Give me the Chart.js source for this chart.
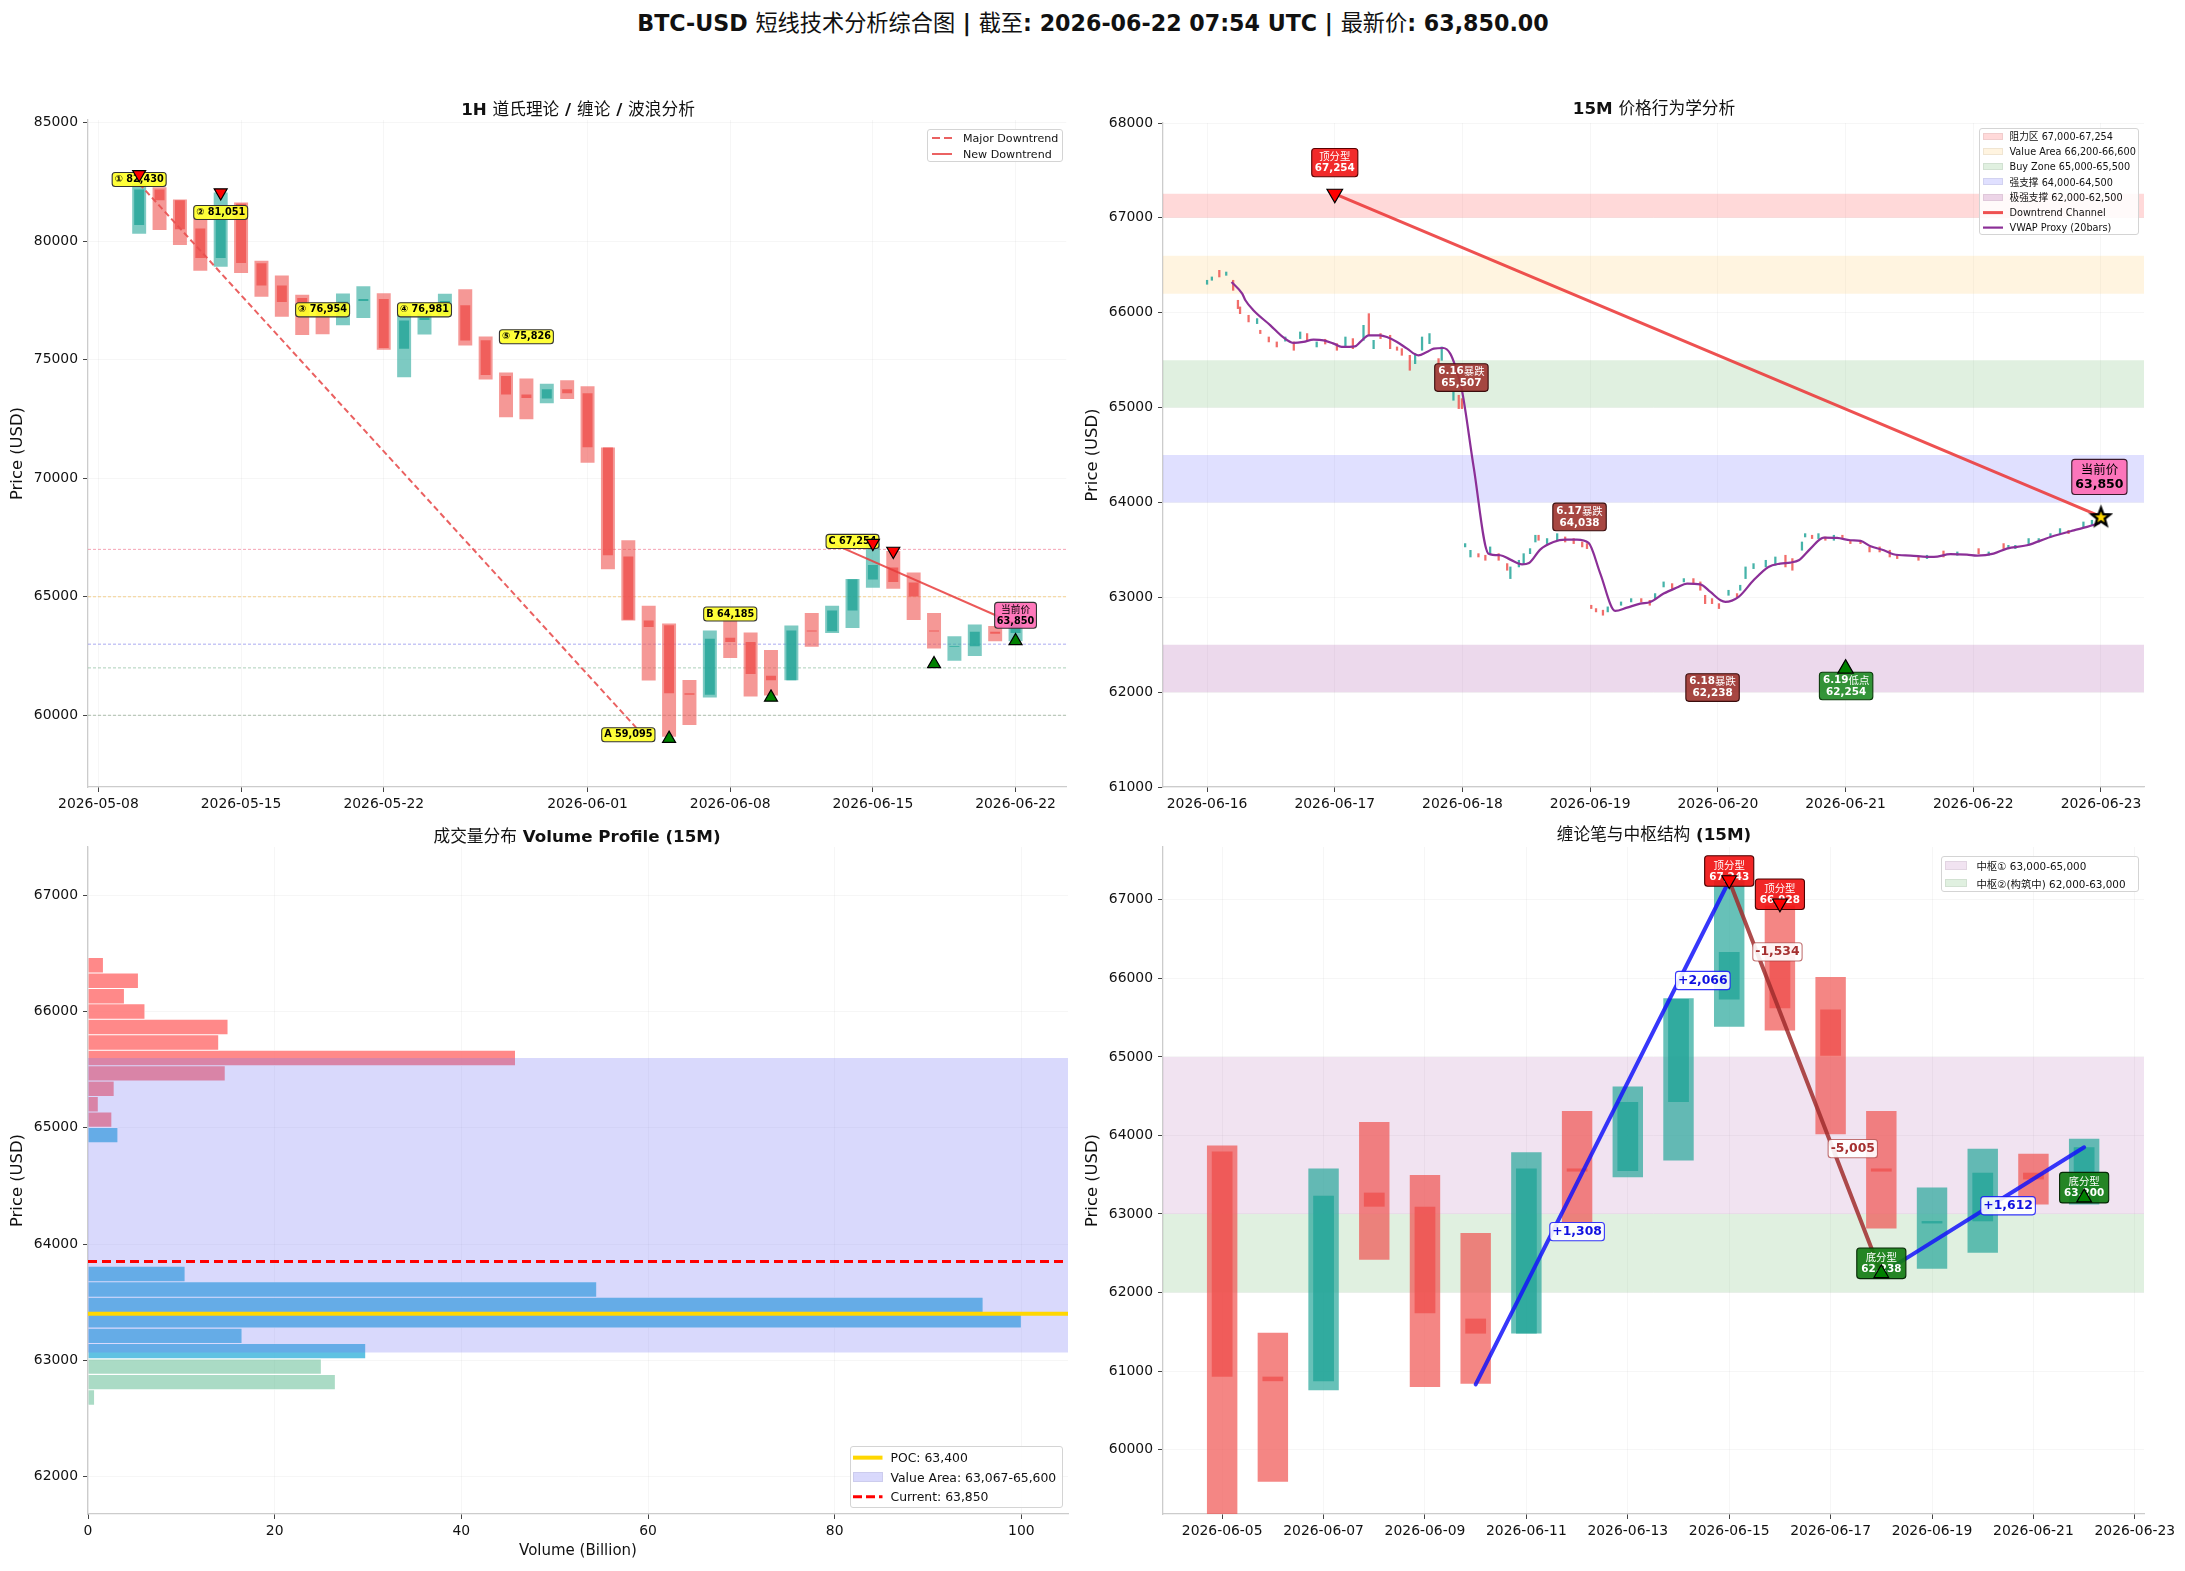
<!DOCTYPE html>
<html>
<head>
<meta charset="utf-8">
<title>BTC-USD 短线技术分析综合图</title>
<script src="https://cdn.jsdelivr.net/npm/chart.js@4.4.1/dist/chart.umd.min.js"></script>
<style>
html, body { margin: 0; padding: 0; background: #fff; }
#page { position: relative; width: 2185px; height: 1571px; overflow: hidden; background: #fff;
  font-family: 'DejaVu Sans', 'Noto Sans CJK SC', sans-serif; color: #111; }
#page canvas { position: absolute; }
.title { position: absolute; text-align: center; white-space: nowrap; font-weight: bold; z-index: 5; }
.cjk { font-weight: normal; font-family: 'Noto Sans CJK SC', sans-serif; }
.legend { position: absolute; box-sizing: border-box; border: 1px solid #d4d4d4; border-radius: 3px;
  background: rgba(255,255,255,0.85); z-index: 5; }
.legend .row { display: flex; align-items: center; white-space: nowrap; }
.legend .sw { flex: none; display: flex; align-items: center; justify-content: center; }
</style>
</head>
<body>
<div id="page"></div>
<script>
'use strict';

const MAIN_TITLE = 'BTC-USD 短线技术分析综合图 | 截至: 2026-06-22 07:54 UTC | 最新价: 63,850.00';
const PANEL_TITLES = ['1H 道氏理论 / 缠论 / 波浪分析', '15M 价格行为学分析', '成交量分布 Volume Profile (15M)', '缠论笔与中枢结构 (15M)'];

// daily candles (panel 1 shows all, panel 4 from 06-05)
const DAILY_DATES = ['2026-05-10', '2026-05-11', '2026-05-12', '2026-05-13', '2026-05-14', '2026-05-15', '2026-05-16', '2026-05-17',
  '2026-05-18', '2026-05-19', '2026-05-20', '2026-05-21', '2026-05-22', '2026-05-23', '2026-05-24', '2026-05-25', '2026-05-26',
  '2026-05-27', '2026-05-28', '2026-05-29', '2026-05-30', '2026-05-31', '2026-06-01', '2026-06-02', '2026-06-03', '2026-06-04',
  '2026-06-05', '2026-06-06', '2026-06-07', '2026-06-08', '2026-06-09', '2026-06-10', '2026-06-11', '2026-06-12', '2026-06-13',
  '2026-06-14', '2026-06-15', '2026-06-16', '2026-06-17', '2026-06-18', '2026-06-19', '2026-06-20', '2026-06-21', '2026-06-22'];
const DAILY_OPEN = [80680, 82183, 81724, 80533, 79290, 81578, 79067, 78132, 77600, 77100, 76950, 77480, 77563, 75464, 76680,
  76950, 77295, 75822, 74319, 73531, 73366, 73751, 73586, 71295, 66700, 64000, 63797, 60929, 60871, 63272, 63093, 61668,
  61477, 63580, 63549, 64426, 65731, 66235, 65603, 63580, 62880, 62908, 63526, 63468];
const DAILY_HIGH = [82430, 82280, 81761, 80955, 82054, 81633, 79177, 78553, 77747, 77336, 77790, 78097, 77802, 76943, 76950,
  77780, 77970, 75984, 74466, 74209, 73989, 74136, 73879, 71295, 67380, 64623, 63872, 61489, 63578, 64172, 63497, 62758,
  63786, 64311, 64623, 65748, 67243, 66928, 66019, 64311, 63336, 63832, 63768, 63959];
const DAILY_LOW = [80313, 80478, 79837, 78755, 78920, 78663, 77655, 76812, 76042, 76080, 76450, 76758, 75419, 74263, 76070,
  76900, 75603, 74166, 72578, 72486, 73164, 73348, 70653, 66162, 64000, 61470, 59095, 59590, 60756, 62418, 60796, 60837,
  61477, 62891, 63468, 63682, 65384, 65338, 64016, 62816, 62303, 62505, 63122, 63122];
const DAILY_CLOSE = [82183, 81724, 80500, 79287, 80950, 79085, 78132, 77435, 76990, 76900, 77450, 77560, 75492, 76660, 76780,
  77480, 75815, 74356, 73531, 73384, 73751, 73586, 71313, 66749, 64030, 63725, 60929, 60871, 63232, 63093, 61737, 61477,
  63578, 63540, 64426, 65736, 66336, 65621, 65015, 63540, 62910, 63526, 63440, 63850];

// panel 1: 1H dow / chan / wave
const X1_RANGE = ['2026-05-07 11:45', '2026-06-24 11:45'];
const X1_TICKS = ['2026-05-08', '2026-05-15', '2026-05-22', '2026-06-01', '2026-06-08', '2026-06-15', '2026-06-22'];
const Y1_RANGE = [56975, 85114];
const Y1_TICKS = [60000, 65000, 70000, 75000, 80000, 85000];
const REF_LEVELS = [67000, 65000, 63000, 62000, 60000];
const REF_COLORS = ['rgba(235,90,120,0.55)', 'rgba(240,170,40,0.5)', 'rgba(90,90,230,0.5)', 'rgba(70,150,100,0.45)', 'rgba(80,120,80,0.45)'];
const MAJOR_TREND = [['2026-05-10', 82430], ['2026-06-03 19:00', 59095]];
const NEW_TREND = [['2026-06-13', 67254], ['2026-06-22', 63850]];
const SWING_TOPS = [['2026-05-10', 82824], ['2026-05-14', 82054], ['2026-06-15', 67262], ['2026-06-16', 66932]];
const SWING_BOTTOMS = [['2026-06-05', 59014], ['2026-06-10', 60755], ['2026-06-18', 62166], ['2026-06-22', 63137]];
const WAVE_LABELS = [
  ['2026-05-10', 82604, '① 82,430'], ['2026-05-14', 81211, '② 81,051'], ['2026-05-19', 77105, '③ 76,954'],
  ['2026-05-24', 77105, '④ 76,981'], ['2026-05-29', 75969, '⑤ 75,826'], ['2026-06-03', 59178, 'A 59,095'],
  ['2026-06-08', 64274, 'B 64,185'], ['2026-06-14', 67336, 'C 67,254']];
const PRICE_TAG_1H = ['2026-06-22', 64219, ['当前价', '63,850']];

// panel 2: 15M price action (hours counted from BAR_BASE)
const BAR_BASE = '2026-06-16';
const X2_RANGE = ['2026-06-15 15:43', '2026-06-23 08:05'];
const X2_TICKS = ['2026-06-16', '2026-06-17', '2026-06-18', '2026-06-19', '2026-06-20', '2026-06-21', '2026-06-22', '2026-06-23'];
const Y2_RANGE = [61000, 68000];
const Y2_TICKS = [61000, 62000, 63000, 64000, 65000, 66000, 67000, 68000];
const C15_HOURS = [0.0, 0.9, 2.3, 3.6, 4.9, 5.8, 6.2, 7.8, 9.4, 10.0,
  11.6, 13.1, 14.7, 16.3, 17.5, 18.8, 20.6, 22.2, 24.4, 26.0,
  27.4, 29.4, 30.4, 31.3, 32.6, 34.4, 35.7, 36.6, 38.1, 39.1,
  40.4, 41.8, 43.5, 44.1, 46.3, 47.3, 47.9, 48.5, 49.5, 51.0,
  52.3, 53.2, 54.8, 56.4, 57.0, 58.6, 59.5, 60.7, 61.7, 62.3,
  63.9, 65.8, 67.3, 68.9, 70.5, 71.4, 72.2, 73.1, 74.4, 75.3,
  77.8, 79.7, 81.6, 83.2, 84.2, 85.8, 87.4, 89.6, 91.4, 92.7,
  93.6, 94.9, 96.2, 98.0, 99.6, 100.2, 101.2, 102.7, 105.0, 106.8,
  108.7, 110.0, 111.8, 112.4, 113.7, 114.9, 116.2, 117.8, 119.4, 120.9,
  122.8, 124.5, 126.4, 128.3, 129.7, 133.7, 135.3, 138.4, 141.0, 145.0,
  146.9, 149.7, 150.6, 151.9, 154.4, 156.3, 158.5, 160.3, 161.9, 164.7, 166.3];
const C15_LOW = [66300, 66342, 66377, 66394, 66236, 66043, 65990, 65903, 65885, 65780,
  65692, 65639, 65700, 65604, 65727, 65710, 65639, 65670, 65604, 65639,
  65621, 65709, 65762, 65621, 65727, 65621, 65604, 65551, 65393, 65463,
  65604, 65674, 65463, 65498, 65077, 64989, 64989, 63531, 63425, 63425,
  63390, 63460, 63390, 63285, 63197, 63320, 63355, 63460, 63583, 63601,
  63566, 63601, 63583, 63566, 63531, 63513, 62881, 62846, 62811, 62846,
  62916, 62951, 62951, 62916, 62986, 63109, 63092, 63162, 63144, 63074,
  62933, 62933, 62881, 63021, 63004, 63074, 63197, 63302, 63320, 63338,
  63320, 63285, 63496, 63636, 63619, 63619, 63601, 63601, 63619, 63566,
  63566, 63478, 63478, 63425, 63408, 63390, 63408, 63425, 63443, 63460,
  63443, 63513, 63513, 63513, 63566, 63583, 63636, 63671, 63671, 63742, 63759];
const C15_HIGH = [66342, 66377, 66447, 66429, 66342, 66131, 66061, 65973, 65938, 65815,
  65744, 65692, 65744, 65692, 65797, 65780, 65692, 65720, 65674, 65744,
  65727, 65867, 65990, 65709, 65780, 65762, 65639, 65621, 65551, 65569,
  65744, 65780, 65516, 65639, 65165, 65130, 65094, 63566, 63495, 63460,
  63443, 63531, 63460, 63355, 63320, 63390, 63460, 63513, 63654, 63654,
  63619, 63671, 63636, 63619, 63583, 63566, 62916, 62881, 62864, 62899,
  62951, 62986, 62986, 62968, 63039, 63162, 63144, 63197, 63197, 63162,
  63021, 62986, 62933, 63074, 63039, 63127, 63320, 63355, 63390, 63425,
  63443, 63408, 63583, 63671, 63654, 63671, 63636, 63654, 63654, 63601,
  63601, 63531, 63531, 63496, 63443, 63425, 63443, 63488, 63478, 63513,
  63478, 63566, 63548, 63548, 63619, 63619, 63671, 63724, 63706, 63794, 63812];
const C15_UP = [1, 1, 0, 1, 0, 0, 0, 0, 1, 0,
  0, 0, 1, 0, 1, 0, 1, 0, 0, 1,
  0, 1, 0, 1, 0, 0, 0, 0, 0, 1,
  1, 1, 0, 1, 1, 0, 0, 1, 1, 0,
  0, 1, 0, 0, 1, 1, 1, 1, 1, 0,
  1, 1, 0, 0, 0, 0, 0, 0, 0, 1,
  1, 1, 0, 0, 1, 1, 0, 1, 0, 0,
  0, 0, 0, 1, 0, 1, 1, 1, 1, 1,
  0, 0, 1, 1, 0, 1, 0, 1, 0, 0,
  0, 0, 0, 0, 0, 0, 1, 0, 1, 0,
  1, 0, 1, 1, 1, 1, 1, 1, 0, 1, 1];
const VWAP_HOURS = [4.6, 6.6, 7.2, 8.7, 11.9, 14.4, 16.3, 18.1, 20.0, 21.9, 23.8, 25.3, 27.8, 28.8, 30.4,
  32.5, 33.8, 35.7, 37.6, 39.7, 41.3, 42.6, 44.4, 45.7, 46.7, 47.9, 50.1, 52.9, 55.1, 57.0,
  59.2, 60.5, 62.6, 65.1, 67.3, 69.5, 71.7, 73.9, 76.7, 78.9, 81.4, 83.3, 85.8, 88.3, 90.2,
  92.7, 94.6, 96.5, 97.4, 99.9, 102.7, 105.5, 107.7, 109.6, 111.2, 113.4, 115.9, 118.4, 120.9, 122.8,
  124.7, 127.2, 129.0, 132.2, 136.6, 139.7, 142.8, 144.7, 147.8, 150.3, 154.1, 158.5, 162.9, 165.4, 167.8];
const VWAP_PRICE = [66324, 66201, 66131, 66026, 65867, 65737, 65681, 65692, 65716, 65709, 65674, 65639, 65646, 65692, 65762,
  65762, 65744, 65692, 65621, 65551, 65586, 65621, 65628, 65569, 65428, 65182, 64374, 63460, 63443, 63397,
  63348, 63362, 63503, 63583, 63608, 63608, 63573, 63250, 62856, 62891, 62933, 62951, 63039, 63102, 63144,
  63137, 63056, 62968, 62951, 63004, 63179, 63320, 63355, 63366, 63390, 63513, 63629, 63626, 63601, 63594,
  63538, 63496, 63454, 63440, 63425, 63454, 63450, 63440, 63460, 63513, 63548, 63636, 63706, 63742, 63784];
const ZONE_LABELS_15M = ['阻力区 67,000-67,254', 'Value Area 66,200-66,600', 'Buy Zone 65,000-65,500', '强支撑 64,000-64,500', '极强支撑 62,000-62,500'];
const ZONE_LOW_15M = [67000, 66200, 65000, 64000, 62000];
const ZONE_HIGH_15M = [67254, 66600, 65500, 64500, 62500];
const ZONE_COLORS_15M = ['rgba(255,0,0,0.15)', 'rgba(255,165,0,0.12)', 'rgba(0,128,0,0.12)', 'rgba(0,0,255,0.12)', 'rgba(128,0,128,0.15)'];
const CHANNEL_15M = [['2026-06-17 00:00', 67254], ['2026-06-23 00:00', 63850]];
const TOP_MARK_15M = [['2026-06-17 00:00', 67254]];
const LOW_MARK_15M = [['2026-06-21 00:00', 62248]];
const NOW_MARK_15M = [['2026-06-23 00:00', 63850]];
const TOP_TAG_15M = [['2026-06-17 00:00', 67582, ['顶分型', '67,254']]];
const DROP_TAGS_15M = [['2026-06-17 23:48', 65316, ['6.16暴跌', '65,507']], ['2026-06-18 22:00', 63847, ['6.17暴跌', '64,038']],
  ['2026-06-19 23:00', 62048, ['6.18暴跌', '62,238']]];
const LOW_TAG_15M = [['2026-06-21 00:06', 62065, ['6.19低点', '62,254']]];
const PRICE_TAG_15M = [['2026-06-22 23:42', 64269, ['当前价', '63,850']]];

// panel 3: volume profile
const VP_PRICE = [62679, 62812, 62945, 63078, 63210, 63343, 63476, 63609, 63742, 64937, 65070, 65203, 65336, 65468,
  65601, 65734, 65867, 66000, 66132, 66265, 66398];
const VP_VOLUME = [0.7, 26.5, 25.0, 29.75, 16.5, 100.0, 95.9, 54.5, 10.4, 3.2, 2.55, 1.1, 2.8, 14.7, 45.8, 14.0, 15.0, 6.1, 3.9, 5.4, 1.65];
const VP_SIDE = ['g', 'g', 'g', 'b', 'b', 'b', 'b', 'b', 'b', 'b', 'r', 'r', 'r', 'r', 'r', 'r', 'r', 'r', 'r', 'r', 'r'];
const VP_COLORS = { g: 'rgba(100,190,150,0.55)', b: 'rgba(60,180,220,0.82)', r: 'rgba(255,107,107,0.8)' };
const POC = 63400;
const VALUE_AREA = [63067, 65600];
const CURRENT_PRICE = 63850;
const X3_RANGE = [0, 105];
const X3_TICKS = [0, 20, 40, 60, 80, 100];
const Y3_RANGE = [61677, 67416];
const Y3_TICKS = [62000, 63000, 64000, 65000, 66000, 67000];

// panel 4: chan bi / pivot
const X4_START = '2026-06-05';
const X4_RANGE = ['2026-06-03 20:00', '2026-06-23 04:20'];
const X4_TICKS = ['2026-06-05', '2026-06-07', '2026-06-09', '2026-06-11', '2026-06-13', '2026-06-15', '2026-06-17', '2026-06-19', '2026-06-21', '2026-06-23'];
const Y4_RANGE = [59180, 67673];
const Y4_TICKS = [60000, 61000, 62000, 63000, 64000, 65000, 66000, 67000];
const PIVOT_LABELS = ['中枢① 63,000-65,000', '中枢②(构筑中) 62,000-63,000'];
const PIVOT_LOW = [63000, 62000];
const PIVOT_HIGH = [65000, 63000];
const PIVOT_COLORS = ['rgba(128,0,128,0.11)', 'rgba(0,128,0,0.12)'];
const BI_POINTS = [['2026-06-10', 60830], ['2026-06-15', 67243], ['2026-06-18', 62238], ['2026-06-22', 63850]];
const FRACTAL_TOPS = [['2026-06-15', 67253], ['2026-06-16', 66957]];
const FRACTAL_BOTTOMS = [['2026-06-18', 62245], ['2026-06-22', 63209]];
const FRACTAL_TOP_TAGS = [['2026-06-15', 67368, ['顶分型', '67,243']], ['2026-06-16', 67071, ['顶分型', '66,928']]];
const FRACTAL_BOTTOM_TAGS = [['2026-06-18', 62372, ['底分型', '62,238']], ['2026-06-22', 63336, ['底分型', '63,200']]];
const BI_TAGS_UP = [['2026-06-12', 62776, '+1,308'], ['2026-06-14 11:30', 65973, '+2,066'], ['2026-06-20 12:00', 63105, '+1,612']];
const BI_TAGS_DOWN = [['2026-06-15 22:50', 66337, '-1,534'], ['2026-06-17 10:30', 63832, '-5,005']];

const TEAL = a => `rgba(38,166,154,${a})`;
const RED = a => `rgba(239,83,80,${a})`;

Chart.defaults.font.family = "'DejaVu Sans', 'Noto Sans CJK SC', sans-serif";
Chart.defaults.color = '#111';
Chart.defaults.animation = false;

const page = document.getElementById('page');
const LABEL_SETS = {};

function toDay(s) {
  const [d, t] = s.split(' ');
  const [y, m, dd] = d.split('-').map(Number);
  let v = Date.UTC(y, m - 1, dd) / 864e5;
  if (t) { const [hh, mm] = t.split(':').map(Number); v += (hh + mm / 60) / 24; }
  return v;
}
function fmtDay(v) { return new Date(Math.round(v) * 864e5).toISOString().slice(0, 10); }

const CJK_RE = /([\u2E80-\u9FFF\uFF00-\uFFEF\u3000-\u303F]+)/;
function runsOf(text) { return text.split(CJK_RE).filter(Boolean).map(t => ({ t, cjk: CJK_RE.test(t) })); }
function mixedHTML(text) { return runsOf(text).map(r => r.cjk ? `<span class="cjk">${r.t}</span>` : r.t).join(''); }
function runFont(r, size) { return r.cjk ? `${size}px 'Noto Sans CJK SC'` : `bold ${size}px 'DejaVu Sans'`; }
function lineWidthOf(ctx, line, size) {
  return runsOf(line).reduce((w, r) => { ctx.font = runFont(r, size); return w + ctx.measureText(r.t).width; }, 0);
}
function drawMixed(ctx, line, cx, cy, size) {
  let x = cx - lineWidthOf(ctx, line, size) / 2;
  ctx.textAlign = 'left';
  ctx.textBaseline = 'middle';
  runsOf(line).forEach(r => { ctx.font = runFont(r, size); ctx.fillText(r.t, x, cy); x += ctx.measureText(r.t).width; });
}

function drawBoxes(chart) {
  const items = LABEL_SETS[chart.canvas.id] || [];
  const { ctx, scales: { x, y } } = chart;
  items.forEach(it => {
    const px = x.getPixelForValue(it.x), py = y.getPixelForValue(it.y);
    const lines = [].concat(it.text);
    const lh = it.size * 1.18;
    const w = Math.max(...lines.map(l => lineWidthOf(ctx, l, it.size))) + 2 * it.padX;
    const h = lines.length * lh + 2 * it.padY;
    ctx.save();
    ctx.beginPath();
    ctx.roundRect(px - w / 2, py - h / 2, w, h, 3);
    ctx.fillStyle = it.bg;
    ctx.fill();
    ctx.lineWidth = 1.1;
    ctx.strokeStyle = it.border;
    ctx.stroke();
    ctx.fillStyle = it.color;
    lines.forEach((l, i) => drawMixed(ctx, l, px, py - h / 2 + it.padY + lh * (i + 0.5), it.size));
    ctx.restore();
  });
}

// label boxes go above lines/candles but under the marker triangles
const boxLabelPlugin = {
  id: 'boxLabels',
  beforeDatasetsDraw(chart) { chart.$boxesDone = false; },
  beforeDatasetDraw(chart, args) {
    if (!chart.$boxesDone && args.meta.order <= 20) { drawBoxes(chart); chart.$boxesDone = true; }
  },
  afterDatasetsDraw(chart) { if (!chart.$boxesDone) { drawBoxes(chart); chart.$boxesDone = true; } }
};

function boxItems(list, style) {
  return list.map(([x, y, text]) => Object.assign({ x: toDay(x), y, text }, style));
}

function makeCanvas(id, r) {
  const c = document.createElement('canvas');
  c.id = id;
  c.width = r.w;
  c.height = r.h;
  Object.assign(c.style, { left: r.x + 'px', top: r.y + 'px', width: r.w + 'px', height: r.h + 'px' });
  page.appendChild(c);
  return c;
}

function axis(range, ticks, fmt, pad) {
  return {
    type: 'linear', min: range[0], max: range[1], offset: false,
    afterBuildTicks: s => { s.ticks = ticks.map(v => ({ value: v })); },
    ticks: { callback: v => fmt(v), font: { size: 13.9 }, color: '#111', padding: pad, maxRotation: 0, autoSkip: false },
    grid: { offset: false, color: 'rgba(0,0,0,0.035)', tickColor: '#444', tickLength: 5, tickWidth: 1 },
    border: { color: '#cccccc', width: 1.3 }
  };
}
function priceAxis(range, ticks) {
  const a = axis(range, ticks, v => String(v), 5);
  a.title = { display: true, text: 'Price (USD)', font: { size: 16.4 }, color: '#111', padding: { top: 8, bottom: 0 } };
  return a;
}
function dateAxis(range, ticks) {
  return axis(range.map(toDay), ticks.map(toDay), fmtDay, 4);
}

function makeChart(id, rect, area, scales, datasets) {
  const canvas = makeCanvas(id, rect);
  const yW = area.l - rect.x, xH = rect.y + rect.h - area.b;
  scales.x.afterFit = s => { s.height = xH; };
  scales.y.afterFit = s => { s.width = yW; };
  return new Chart(canvas, {
    type: 'bar',
    data: { datasets },
    options: {
      responsive: false, animation: false, devicePixelRatio: 1,
      layout: { padding: { left: 0, bottom: 0, top: area.t - rect.y, right: rect.x + rect.w - area.r } },
      plugins: { legend: { display: false }, tooltip: { enabled: false } },
      scales
    },
    plugins: [boxLabelPlugin]
  });
}

function lineSet(points, color, width, order, extra) {
  return Object.assign({
    type: 'line', order, data: points.map(([d, p]) => ({ x: typeof d === 'string' ? toDay(d) : d, y: p })),
    borderColor: color, borderWidth: width, pointRadius: 0, pointHoverRadius: 0, fill: false
  }, extra || {});
}
function bandSet(xr, lo, hi, color, order) {
  return {
    type: 'line', order, data: [{ x: xr[0], y: hi }, { x: xr[1], y: hi }], fill: { value: lo },
    backgroundColor: color, borderColor: 'rgba(0,0,0,0)', borderWidth: 0, pointRadius: 0, pointHoverRadius: 0
  };
}
function markerSet(points, down, radius) {
  return {
    type: 'line', order: 10, showLine: false, data: points.map(([d, p]) => ({ x: toDay(d), y: p })),
    pointStyle: 'triangle', pointRotation: down ? 180 : 0, pointRadius: radius, pointHoverRadius: radius,
    pointBackgroundColor: down ? '#ff0000' : '#008000', pointBorderColor: '#000', pointBorderWidth: 1.2
  };
}
function candleSets(idx, outerPct, innerPct, outerAlpha) {
  const isUp = i => DAILY_CLOSE[i] >= DAILY_OPEN[i];
  return [
    {
      type: 'bar', order: 90, grouped: false, categoryPercentage: 1, barPercentage: outerPct,
      data: idx.map(i => ({ x: toDay(DAILY_DATES[i]), y: [DAILY_LOW[i], DAILY_HIGH[i]] })),
      backgroundColor: idx.map(i => isUp(i) ? TEAL(outerAlpha) : RED(outerAlpha))
    },
    {
      type: 'bar', order: 85, grouped: false, categoryPercentage: 1, barPercentage: innerPct,
      data: idx.map(i => ({ x: toDay(DAILY_DATES[i]), y: [Math.min(DAILY_OPEN[i], DAILY_CLOSE[i]), Math.max(DAILY_OPEN[i], DAILY_CLOSE[i])] })),
      backgroundColor: idx.map(i => isUp(i) ? TEAL(0.82) : RED(0.82))
    }
  ];
}

function starImage(r) {
  const c = document.createElement('canvas');
  const s = Math.ceil(r * 2 + 6);
  c.width = c.height = s;
  const g = c.getContext('2d');
  g.translate(s / 2, s / 2 + r * 0.08);
  g.beginPath();
  for (let k = 0; k < 10; k++) {
    const rr = k % 2 ? r * 0.42 : r;
    const a = -Math.PI / 2 + k * Math.PI / 5;
    g.lineTo(rr * Math.cos(a), rr * Math.sin(a));
  }
  g.closePath();
  g.fillStyle = '#ffd700';
  g.fill();
  g.lineWidth = 2.4;
  g.strokeStyle = '#000';
  g.stroke();
  return c;
}

function addTitle(text, cx, cy, size) {
  const el = document.createElement('div');
  el.className = 'title';
  Object.assign(el.style, { left: (cx - 600) + 'px', top: (cy - size * 0.62) + 'px', width: '1200px', fontSize: size + 'px', lineHeight: (size * 1.24) + 'px' });
  el.innerHTML = mixedHTML(text);
  page.appendChild(el);
}

function addLegend(items, box, font, rowH, sw) {
  const el = document.createElement('div');
  el.className = 'legend';
  Object.assign(el.style, { left: box.x + 'px', top: box.y + 'px', width: box.w + 'px', height: box.h + 'px', fontSize: font + 'px', paddingTop: box.pt + 'px', paddingLeft: box.pl + 'px' });
  items.forEach(it => {
    const row = document.createElement('div');
    row.className = 'row';
    row.style.height = rowH + 'px';
    const s = document.createElement('span');
    s.className = 'sw';
    s.style.width = sw.w + 'px';
    s.style.height = rowH + 'px';
    s.style.marginRight = sw.gap + 'px';
    if (it.kind === 'patch') {
      s.innerHTML = `<span style="display:block;width:${sw.w}px;height:${sw.h}px;background:${it.color};border:0.8px solid ${it.edge || 'rgba(0,0,0,0.06)'};box-sizing:border-box"></span>`;
    } else {
      s.innerHTML = `<svg width="${sw.w}" height="${rowH}"><line x1="0" y1="${rowH / 2}" x2="${sw.w}" y2="${rowH / 2}" stroke="${it.color}" stroke-width="${it.width}" ${it.dash ? `stroke-dasharray="${it.dash}"` : ''}/></svg>`;
    }
    const t = document.createElement('span');
    t.innerHTML = mixedHTML(it.label).replace(/class="cjk"/g, 'style="font-family:\'Noto Sans CJK SC\'"');
    row.appendChild(s);
    row.appendChild(t);
    el.appendChild(row);
  });
  page.appendChild(el);
}

// ---------- panel 1 ----------
(function panel1() {
  const xr = X1_RANGE.map(toDay);
  const idx = DAILY_DATES.map((d, i) => i);
  const datasets = [
    ...REF_LEVELS.map((lv, i) => lineSet([[xr[0], lv], [xr[1], lv]], REF_COLORS[i], 1, 95, { borderDash: [3, 2] })),
    ...candleSets(idx, 0.685, 0.49, 0.6),
    lineSet(MAJOR_TREND, 'rgba(232,80,80,0.9)', 2, 75, { borderDash: [6, 3.5] }),
    lineSet(NEW_TREND, 'rgba(232,60,60,0.85)', 2, 75),
    markerSet(SWING_TOPS, true, 7.5),
    markerSet(SWING_BOTTOMS, false, 7.5)
  ];
  LABEL_SETS.p1 = [
    ...boxItems(WAVE_LABELS, { bg: 'rgba(255,255,40,0.92)', border: '#333', color: '#000', size: 9.7, padX: 2.5, padY: 1.3 }),
    ...boxItems([PRICE_TAG_1H], { bg: 'rgba(255,105,180,0.9)', border: '#333', color: '#000', size: 9.7, padX: 2.2, padY: 1.5 })
  ];
  makeChart('p1', { x: 0, y: 95, w: 1075, h: 740 }, { l: 88, t: 120, r: 1068, b: 787 },
    { x: dateAxis(X1_RANGE, X1_TICKS), y: priceAxis(Y1_RANGE, Y1_TICKS) }, datasets);
  addLegend([
    { label: 'Major Downtrend', kind: 'line', color: 'rgba(232,80,80,0.9)', width: 2, dash: '8,4' },
    { label: 'New Downtrend', kind: 'line', color: 'rgba(232,70,70,0.85)', width: 2 }
  ], { x: 927, y: 128.6, w: 136, h: 33.4, pt: 0.5, pl: 4 }, 11.1, 16, { w: 20, h: 7, gap: 11 });
})();

// ---------- panel 2 ----------
(function panel2() {
  const xr = X2_RANGE.map(toDay);
  const base = toDay(BAR_BASE);
  const datasets = [
    ...ZONE_LOW_15M.map((lo, i) => bandSet(xr, lo, ZONE_HIGH_15M[i], ZONE_COLORS_15M[i], 100)),
    {
      type: 'bar', order: 90, grouped: false, barThickness: 1.6,
      data: C15_HOURS.map((h, i) => ({ x: base + h / 24, y: [C15_LOW[i], C15_HIGH[i]] })),
      backgroundColor: C15_UP.map(u => u ? TEAL(0.85) : RED(0.85))
    },
    lineSet(VWAP_HOURS.map((h, i) => [base + h / 24, VWAP_PRICE[i]]), '#8b2f97', 2.2, 80, { cubicInterpolationMode: 'monotone' }),
    lineSet(CHANNEL_15M, 'rgba(235,50,50,0.85)', 3, 75),
    markerSet(TOP_MARK_15M, true, 9),
    markerSet(LOW_MARK_15M, false, 9),
    {
      type: 'line', order: 10, showLine: false, data: NOW_MARK_15M.map(([d, p]) => ({ x: toDay(d), y: p })),
      pointStyle: starImage(9.5), pointRadius: 10, pointHoverRadius: 10
    }
  ];
  LABEL_SETS.p2 = [
    ...boxItems(TOP_TAG_15M, { bg: 'rgba(240,24,24,0.92)', border: '#5a0000', color: '#fff', size: 10.4, padX: 3, padY: 1.9 }),
    ...boxItems(DROP_TAGS_15M, { bg: 'rgba(160,55,50,0.92)', border: '#3a0d0d', color: '#fff', size: 10.4, padX: 3.5, padY: 1.5 }),
    ...boxItems(LOW_TAG_15M, { bg: 'rgba(35,140,40,0.92)', border: '#0b3b0b', color: '#fff', size: 10.4, padX: 3.5, padY: 1.5 }),
    ...boxItems(PRICE_TAG_15M, { bg: 'rgba(255,105,180,0.9)', border: '#3a1a2a', color: '#000', size: 12.5, padX: 3.5, padY: 2.8 })
  ];
  makeChart('p2', { x: 1075, y: 95, w: 1110, h: 740 }, { l: 1163, t: 123, r: 2144, b: 787 },
    { x: dateAxis(X2_RANGE, X2_TICKS), y: priceAxis(Y2_RANGE, Y2_TICKS) }, datasets);
  addLegend([
    ...ZONE_LABELS_15M.map((l, i) => ({ label: l, kind: 'patch', color: ZONE_COLORS_15M[i] })),
    { label: 'Downtrend Channel', kind: 'line', color: 'rgba(235,50,50,0.85)', width: 3 },
    { label: 'VWAP Proxy (20bars)', kind: 'line', color: '#8b2f97', width: 2.2 }
  ], { x: 1978.5, y: 127.7, w: 160.5, h: 107.3, pt: 0, pl: 3 }, 9.7, 15.2, { w: 20, h: 7, gap: 7 });
})();

// ---------- panel 3 ----------
(function panel3() {
  const datasets = [
    {
      type: 'bar', indexAxis: 'y', order: 90, grouped: false, categoryPercentage: 1, barPercentage: 1,
      data: VP_PRICE.map((p, i) => ({ x: VP_VOLUME[i], y: p })),
      backgroundColor: VP_SIDE.map(s => VP_COLORS[s]),
      borderColor: 'rgba(255,255,255,0.7)', borderWidth: 0.8
    },
    bandSet(X3_RANGE, VALUE_AREA[0], VALUE_AREA[1], 'rgba(120,120,245,0.28)', 50),
    lineSet([[X3_RANGE[0], POC], [X3_RANGE[1], POC]], '#ffd700', 4, 40),
    lineSet([[X3_RANGE[0], CURRENT_PRICE], [X3_RANGE[1], CURRENT_PRICE]], '#ff0000', 3, 30, { borderDash: [9, 5] })
  ];
  const x = axis(X3_RANGE, X3_TICKS, v => String(v), 4);
  x.title = { display: true, text: 'Volume (Billion)', font: { size: 15 }, color: '#111', padding: { top: 0, bottom: 10.4 } };
  makeChart('p3', { x: 0, y: 815, w: 1075, h: 756 }, { l: 88, t: 847, r: 1068, b: 1514 },
    { x, y: priceAxis(Y3_RANGE, Y3_TICKS) }, datasets);
  addLegend([
    { label: 'POC: 63,400', kind: 'line', color: '#ffd700', width: 4 },
    { label: 'Value Area: 63,067-65,600', kind: 'patch', color: 'rgba(120,120,245,0.28)' },
    { label: 'Current: 63,850', kind: 'line', color: '#ff0000', width: 3, dash: '9,4' }
  ], { x: 850, y: 1446, w: 213, h: 61.6, pt: 1.3, pl: 2.3 }, 12.4, 19.3, { w: 29.5, h: 10, gap: 7.7 });
})();

// ---------- panel 4 ----------
(function panel4() {
  const xr = X4_RANGE.map(toDay);
  const start = toDay(X4_START);
  const idx = DAILY_DATES.map((d, i) => i).filter(i => toDay(DAILY_DATES[i]) >= start);
  const datasets = [
    ...PIVOT_LOW.map((lo, i) => bandSet(xr, lo, PIVOT_HIGH[i], PIVOT_COLORS[i], 100)),
    ...candleSets(idx, 0.6, 0.41, 0.7),
    lineSet(BI_POINTS, 'rgba(20,20,250,0.85)', 4, 75, {
      borderCapStyle: 'round',
      segment: { borderColor: c => c.p1.parsed.y >= c.p0.parsed.y ? 'rgba(20,20,250,0.85)' : 'rgba(160,45,45,0.85)' }
    }),
    markerSet(FRACTAL_TOPS, true, 8.5),
    markerSet(FRACTAL_BOTTOMS, false, 8.5)
  ];
  LABEL_SETS.p4 = [
    ...boxItems(FRACTAL_TOP_TAGS, { bg: 'rgba(240,20,20,0.92)', border: '#4a0000', color: '#fff', size: 10.4, padX: 4.5, padY: 3 }),
    ...boxItems(FRACTAL_BOTTOM_TAGS, { bg: 'rgba(20,125,20,0.92)', border: '#062806', color: '#fff', size: 10.4, padX: 4.5, padY: 3 }),
    ...boxItems(BI_TAGS_UP, { bg: 'rgba(255,255,255,0.9)', border: 'rgba(20,20,250,0.85)', color: '#1010e0', size: 12.4, padX: 2.5, padY: 1.8 }),
    ...boxItems(BI_TAGS_DOWN, { bg: 'rgba(255,255,255,0.9)', border: 'rgba(170,60,60,0.7)', color: '#a53030', size: 12.4, padX: 2.5, padY: 1.8 })
  ];
  makeChart('p4', { x: 1075, y: 815, w: 1110, h: 756 }, { l: 1163, t: 847, r: 2144, b: 1514 },
    { x: dateAxis(X4_RANGE, X4_TICKS), y: priceAxis(Y4_RANGE, Y4_TICKS) }, datasets);
  addLegend(PIVOT_LABELS.map((l, i) => ({ label: l, kind: 'patch', color: PIVOT_COLORS[i] })),
    { x: 1940.7, y: 855.7, w: 198.6, h: 36.6, pt: 0.5, pl: 3 }, 10.4, 17.3, { w: 22.7, h: 8.7, gap: 9 });
})();

addTitle(MAIN_TITLE, 1093, 22, 22.2);
addTitle(PANEL_TITLES[0], 578, 108, 16.7);
addTitle(PANEL_TITLES[1], 1654, 107, 16.7);
addTitle(PANEL_TITLES[2], 577, 835, 16.7);
addTitle(PANEL_TITLES[3], 1654, 833, 16.7);
</script>
</body>
</html>
